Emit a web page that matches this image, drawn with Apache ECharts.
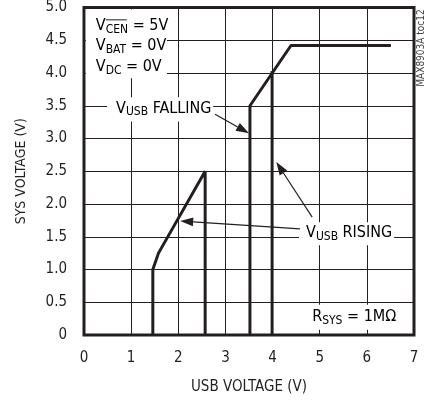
<!DOCTYPE html>
<html><head><meta charset="utf-8">
<script src="https://cdn.jsdelivr.net/npm/echarts@6/dist/echarts.min.js"></script>
<style>html,body{margin:0;padding:0;background:#fff}#c{width:427px;height:401px}</style>
</head><body><div id="c"></div>
<script>
// ---- data ----
const xTicks = [0, 1, 2, 3, 4, 5, 6, 7];
const yTicks = ['0', '0.5', '1.0', '1.5', '2.0', '2.5', '3.0', '3.5', '4.0', '4.5', '5.0'];
const lowCurveX = [1.46, 1.46, 1.58, 2.57, 2.57];
const lowCurveY = [0, 1.0, 1.25, 2.5, 0];
const fallingX = [3.52, 3.52, 4.39, 6.51];
const fallingY = [0, 3.5, 4.42, 4.42];
const risingX = [3.99, 3.99];
const risingY = [0, 4.03];

const FONT = "'Liberation Sans Narrow', 'DejaVu Sans Condensed', sans-serif";
const INK = '#231f20';
const zip = (xs, ys) => xs.map((x, i) => [x, ys[i]]);

const chart = echarts.init(document.getElementById('c'));
chart.setOption({
  animation: false,
  backgroundColor: '#fff',
  grid: { left: 84, right: 13, top: 7, bottom: 66, show: true, borderColor: INK, borderWidth: 3, backgroundColor: 'transparent' },
  xAxis: {
    type: 'value', min: 0, max: 7, interval: 1,
    name: 'USB VOLTAGE (V)', nameLocation: 'middle', nameGap: 45,
    nameTextStyle: { fontFamily: FONT, fontSize: 15, color: INK },
    axisLine: { show: false }, axisTick: { show: false },
    axisLabel: { margin: 16, fontFamily: FONT, fontSize: 15, color: INK },
    splitLine: { show: true, lineStyle: { color: INK, width: 1 } }
  },
  yAxis: {
    type: 'value', min: 0, max: 5, interval: 0.5,
    name: 'SYS VOLTAGE (V)', nameLocation: 'middle', nameGap: 56,
    nameTextStyle: { fontFamily: FONT, fontSize: 14, color: INK },
    axisLine: { show: false }, axisTick: { show: false },
    axisLabel: { margin: 17, fontFamily: FONT, fontSize: 15, color: INK,
      formatter: v => yTicks[Math.round(v * 2)] },
    splitLine: { show: true, lineStyle: { color: INK, width: 1 } }
  },
  series: [
    { type: 'line', data: zip(lowCurveX, lowCurveY), showSymbol: false, lineStyle: { color: INK, width: 3 }, z: 5 },
    { type: 'line', data: zip(fallingX, fallingY), showSymbol: false, lineStyle: { color: INK, width: 3 }, z: 5 },
    { type: 'line', data: zip(risingX, risingY), showSymbol: false, lineStyle: { color: INK, width: 3 }, z: 5 }
  ]
});

const P = (x, y) => chart.convertToPixel({ gridIndex: 0 }, [x, y]);
const rich = {
  n: { fontFamily: FONT, fontSize: 16, color: INK, lineHeight: 20 },
  s: { fontFamily: FONT, fontSize: 12, color: INK, verticalAlign: 'bottom', lineHeight: 20 }
};
function whiteBox(a, b) {
  const p = P(a[0], a[1]), q = P(b[0], b[1]);
  return { type: 'rect', z: 50, shape: { x: p[0], y: p[1], width: q[0] - p[0], height: q[1] - p[1] }, style: { fill: '#fff' } };
}
function label(at, text) {
  const p = P(at[0], at[1]);
  return { type: 'text', z: 60, x: p[0], y: p[1], style: { text, rich, verticalAlign: 'middle', align: 'left' } };
}
function arrow(from, to) {
  const a = P(from[0], from[1]), b = P(to[0], to[1]);
  const dx = b[0] - a[0], dy = b[1] - a[1], L = Math.hypot(dx, dy);
  const ux = dx / L, uy = dy / L, hl = 13, hw = 4.5;
  const bx = b[0] - ux * hl, by = b[1] - uy * hl;
  return [
    { type: 'line', z: 55, shape: { x1: a[0], y1: a[1], x2: bx, y2: by }, style: { stroke: INK, lineWidth: 1.2 } },
    { type: 'polygon', z: 55, shape: { points: [[b[0], b[1]], [bx - uy * hw, by + ux * hw], [bx + uy * hw, by - ux * hw]] }, style: { fill: INK } }
  ];
}
// annotation anchors in data units
const condBox = [[0.04, 4.97], [1.76, 3.92]];
const condLines = [[0.25, 4.72, '{n|V}{s|CEN}{n| = 5V}'], [0.25, 4.41, '{n|V}{s|BAT}{n| = 0V}'], [0.25, 4.09, '{n|V}{s|DC}{n| = 0V}']];
const fallBox = [[0.49, 3.63], [2.74, 3.26]];
const fallText = [0.68, 3.46];
const fallArrow = [[2.78, 3.37], [3.50, 3.08]];
const riseBox = [[4.56, 1.72], [6.58, 1.37]];
const riseText = [4.71, 1.56];
const riseArrow1 = [[4.58, 1.62], [2.04, 1.74]];
const riseArrow2 = [[4.84, 1.80], [4.08, 2.64]];
const rsysBox = [[4.71, 0.46], [6.70, 0.08]];
const rsysText = [4.84, 0.27];

const g = [];
g.push(whiteBox(condBox[0], condBox[1]));
condLines.forEach(l => g.push(label([l[0], l[1]], l[2])));
// overline for CEN
const ol = P(0.25, 4.72);
g.push({ type: 'line', z: 60, shape: { x1: ol[0] + 10, y1: ol[1] - 6, x2: ol[0] + 31, y2: ol[1] - 6 }, style: { stroke: INK, lineWidth: 1 } });
g.push(whiteBox(fallBox[0], fallBox[1]));
g.push(label(fallText, '{n|V}{s|USB}{n| FALLING}'));
g.push(...arrow(fallArrow[0], fallArrow[1]));
g.push(...arrow(riseArrow1[0], riseArrow1[1]));
g.push(...arrow(riseArrow2[0], riseArrow2[1]));
g.push(whiteBox(riseBox[0], riseBox[1]));
g.push(label(riseText, '{n|V}{s|USB}{n| RISING}'));
g.push(whiteBox(rsysBox[0], rsysBox[1]));
g.push(label(rsysText, '{n|R}{s|SYS}{n| = 1MΩ}'));
g.push({ type: 'text', z: 60, x: 421, y: 48, rotation: Math.PI / 2, style: { text: 'MAX8903A toc12', fontFamily: FONT, fontSize: 10, fill: '#444', align: 'center', verticalAlign: 'middle' } });
chart.setOption({ graphic: g });
</script></body></html>
